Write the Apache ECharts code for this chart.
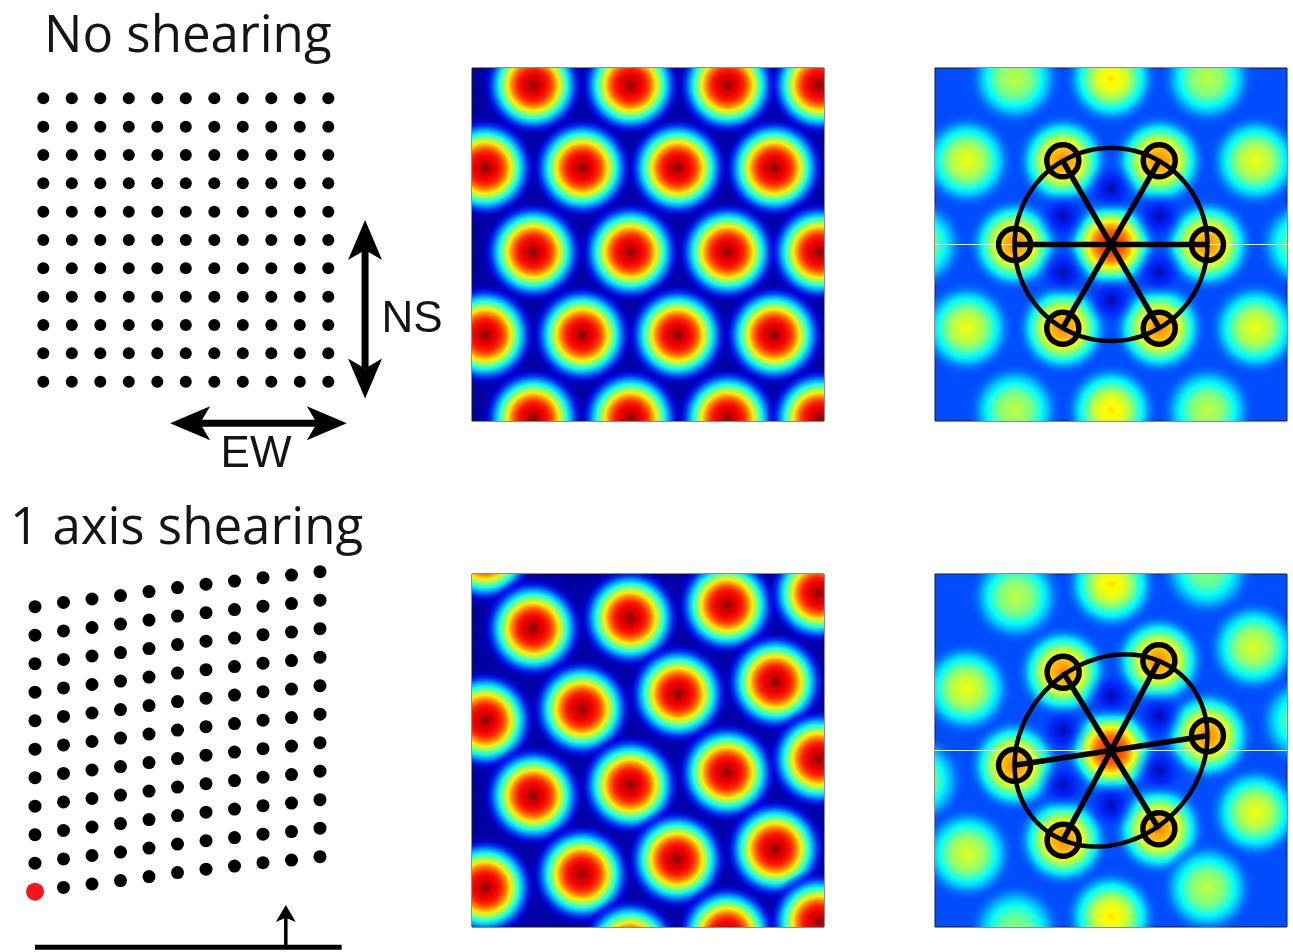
<!DOCTYPE html>
<html>
<head>
<meta charset="utf-8">
<script src="https://cdn.jsdelivr.net/npm/echarts/dist/echarts.min.js"></script>
<style>
  html, body { margin: 0; padding: 0; background: #fff; }
  #main { width: 1293px; height: 952px; }
</style>
</head>
<body>
<div id="main"></div>
<script>
// ---- data ----
// dot lattices (column / row index)
const dotCols = [0, 1, 2, 3, 4, 5, 6, 7, 8, 9, 10];
const dotRows = [0, 1, 2, 3, 4, 5, 6, 7, 8, 9, 10];
// vertical shift of every column in the sheared lattice, in row units
const shearOffset = [0, 0.15, 0.27, 0.39, 0.53, 0.67, 0.79, 0.90, 1.02, 1.11, 1.23];
const startDot = [0, 0];

// rate map firing fields: [x, y, peak height]  (panel spans 0..100)
const rateTopPeaks = [
  [17.4, 95.2, 1], [45.0, 95.2, 1], [72.6, 95.2, 1], [98.6, 95.2, 1],
  [3.7, 71.7, 1], [31.3, 71.7, 1], [58.4, 71.7, 1], [85.8, 71.7, 1],
  [17.4, 47.9, 1], [45.0, 47.9, 1], [72.6, 47.9, 1], [98.6, 47.9, 1],
  [3.7, 24.4, 1], [31.3, 24.4, 1], [58.4, 24.4, 1], [85.8, 24.4, 1],
  [17.4, 0.8, 1], [45.0, 0.8, 1], [72.6, 0.8, 1], [98.6, 0.8, 1]
];
const rateBottomPeaks = [
  [3.7, 105.8, 1],
  [17.4, 84.6, 1], [44.9, 87.6, 1], [72.4, 91.2, 1], [98.4, 94.5, 1],
  [3.7, 58.5, 1], [31.2, 61.8, 1], [58.6, 66.1, 1], [86.1, 69.4, 1],
  [17.4, 37.2, 1], [44.9, 40.2, 1], [72.4, 43.8, 1], [98.4, 47.6, 1],
  [3.7, 11.2, 1], [31.2, 15.0, 1], [58.2, 19.2, 1], [86.1, 22.1, 1],
  [44.9, -6.0, 1], [72.4, -2.0, 1], [98.4, 1.5, 1]
];

// autocorrelograms: centre, six inner peaks (R, TR, TL, L, BL, BR), outer peaks, troughs
const acTopCentre = [50, 50, 0.88];
const acTopRing = [
  [77.4, 50, 0.76], [63.7, 73.7, 0.76], [36.3, 73.7, 0.76],
  [22.6, 50, 0.76], [36.3, 26.3, 0.76], [63.7, 26.3, 0.76]
];
const acTopOuter = [
  [50, 97, 0.66], [50, 3, 0.66],
  [9, 73.7, 0.62], [91, 73.7, 0.62], [9, 26.3, 0.62], [91, 26.3, 0.62],
  [22.6, 97, 0.57], [77.4, 97, 0.57], [22.6, 3, 0.57], [77.4, 3, 0.57],
  [-4.8, 50, 0.55], [104.8, 50, 0.55]
];
const acTopTroughs = [
  [50, 65.8, 0.03], [50, 34.2, 0.03], [63.7, 57.9, 0.03],
  [36.3, 57.9, 0.03], [63.7, 42.1, 0.03], [36.3, 42.1, 0.03]
];

const acBottomCentre = [50, 50, 0.88];
const acBottomRing = [
  [77.4, 54.2, 0.76], [63.6, 75.4, 0.76], [36.4, 72.2, 0.76],
  [22.6, 45.8, 0.76], [36.4, 24.6, 0.76], [63.6, 27.8, 0.76]
];
const acBottomOuter = [
  [50, 97, 0.66], [50, 3, 0.66],
  [23, 93.6, 0.57], [8.8, 67.5, 0.62], [90.5, 79.3, 0.6],
  [91, 32.5, 0.62], [9.2, 20.8, 0.6], [77.3, 11, 0.57],
  [22.8, -0.8, 0.52], [77.2, 101, 0.52], [-4.8, 41.6, 0.53], [104.8, 58.4, 0.53]
];
const acBottomTroughs = [
  [63.7, 59.9, 0.03], [50, 65.5, 0.03], [36.3, 55.7, 0.03],
  [36.3, 40.1, 0.03], [50, 34.5, 0.03], [63.7, 44.3, 0.03]
];

// ---- helpers ----
function jet(v, a) {
  const cl = x => Math.max(0, Math.min(1, x));
  const r = cl(1.5 - Math.abs(4 * v - 3));
  const g = cl(1.5 - Math.abs(4 * v - 2));
  const b = cl(1.5 - Math.abs(4 * v - 1));
  return 'rgba(' + Math.round(r * 255) + ',' + Math.round(g * 255) + ',' + Math.round(b * 255) + ',' + (a == null ? 1 : a.toFixed(3)) + ')';
}

// radial fall-off of a firing field (radius fraction -> relative height)
const PROFILE = [[0, 1], [0.1, 0.93], [0.2, 0.89], [0.3, 0.84], [0.4, 0.74], [0.48, 0.63],
  [0.56, 0.5], [0.64, 0.38], [0.72, 0.26], [0.8, 0.16], [0.9, 0.08], [1, 0.02]];

const RATE_BG = 0.035;
const AC_BG = 0.2;

function peakItem(bg, radius) {
  return function (params, api) {
    const c = api.coord([api.value(0), api.value(1)]);
    const r = api.size([radius, 0])[0];
    const h = api.value(2);
    const stops = PROFILE.map(([t, f]) => ({
      offset: t,
      color: jet(bg + (h - bg) * f, t < 0.75 ? 1 : (1 - t) / 0.25)
    }));
    return {
      type: 'circle',
      shape: { cx: c[0], cy: c[1], r: r },
      style: { fill: { type: 'radial', x: 0.5, y: 0.5, r: 0.5, global: false, colorStops: stops } }
    };
  };
}

function troughItem(bg, radius) {
  return function (params, api) {
    const c = api.coord([api.value(0), api.value(1)]);
    const r = api.size([radius, 0])[0];
    const d = api.value(2);
    return {
      type: 'circle',
      shape: { cx: c[0], cy: c[1], r: r },
      style: {
        fill: {
          type: 'radial', x: 0.5, y: 0.5, r: 0.5, global: false,
          colorStops: [
            { offset: 0, color: jet(d, 0.85) },
            { offset: 0.45, color: jet((d + bg) / 2, 0.5) },
            { offset: 1, color: jet(bg, 0) }
          ]
        }
      }
    };
  };
}

function overlayItem(centre, ring) {
  return function (params, api) {
    const c = api.coord([centre[0], centre[1]]);
    const p = api.coord([api.value(0), api.value(1)]);
    const kids = [
      { type: 'line', shape: { x1: c[0], y1: c[1], x2: p[0], y2: p[1] }, style: { stroke: '#000', lineWidth: 5.5 } },
      { type: 'circle', shape: { cx: p[0], cy: p[1], r: 16 }, style: { fill: null, stroke: '#000', lineWidth: 5.5 } }
    ];
    if (params.dataIndex === 0) {
      // ellipse through the six inner peaks (conjugate diameters)
      const u = [ring[0][0] - centre[0], ring[0][1] - centre[1]];
      const v = [ring[1][0] - centre[0], ring[1][1] - centre[1]];
      const w = [(2 * v[0] - u[0]) / Math.sqrt(3), (2 * v[1] - u[1]) / Math.sqrt(3)];
      const pts = [];
      for (let k = 0; k <= 90; k++) {
        const t = k / 90 * 2 * Math.PI;
        pts.push(api.coord([
          centre[0] + Math.cos(t) * u[0] + Math.sin(t) * w[0],
          centre[1] + Math.cos(t) * u[1] + Math.sin(t) * w[1]
        ]));
      }
      kids.unshift({ type: 'polyline', shape: { points: pts }, style: { stroke: '#000', lineWidth: 4.5, fill: null } });
    }
    return { type: 'group', children: kids };
  };
}

function arrowItem(head, shaft, ends) {
  return function (params, api) {
    const a = api.coord([api.value(0), api.value(1)]);
    const b = api.coord([api.value(2), api.value(3)]);
    const len = Math.hypot(b[0] - a[0], b[1] - a[1]);
    const d = [(b[0] - a[0]) / len, (b[1] - a[1]) / len];
    const n = [-d[1], d[0]];
    const kids = [];
    const mk = (tip, dir) => {
      const base = [tip[0] - dir[0] * head[0], tip[1] - dir[1] * head[0]];
      const notch = [tip[0] - dir[0] * head[0] * 0.75, tip[1] - dir[1] * head[0] * 0.75];
      kids.push({
        type: 'polygon',
        shape: { points: [tip, [base[0] + n[0] * head[1] / 2, base[1] + n[1] * head[1] / 2], notch,
          [base[0] - n[0] * head[1] / 2, base[1] - n[1] * head[1] / 2]] },
        style: { fill: '#000' }
      });
      return notch;
    };
    let s = a, e = b;
    if (ends[0]) s = mk(a, [-d[0], -d[1]]);
    if (ends[1]) e = mk(b, d);
    kids.unshift({ type: 'line', shape: { x1: s[0], y1: s[1], x2: e[0], y2: e[1] }, style: { stroke: '#000', lineWidth: shaft } });
    return { type: 'group', children: kids };
  };
}

// ---- build series data ----
const flatDots = [];
dotCols.forEach(c => dotRows.forEach(r => flatDots.push([c, r])));
const shearDots = [];
dotCols.forEach((c, i) => dotRows.forEach(r => {
  if (!(c === startDot[0] && r === startDot[1])) shearDots.push([c, r + shearOffset[i]]);
}));

const acTopPeaks = [acTopCentre].concat(acTopRing, acTopOuter);
const acBottomPeaks = [acBottomCentre].concat(acBottomRing, acBottomOuter);

const chart = echarts.init(document.getElementById('main'));

const panelGrid = (left, top, bg) => ({
  left: left, top: top, width: 352, height: 353,
  show: true, backgroundColor: jet(bg), borderColor: '#1a1a1a', borderWidth: 1
});

const hiddenAxis = (gi, min, max) => ({ gridIndex: gi, type: 'value', min: min, max: max, show: false });

const RATE_R = 15;
const AC_R = 13.5;

function acSeries(gi, peaks, troughs, centre, ring) {
  return [
    { type: 'custom', xAxisIndex: gi, yAxisIndex: gi, clip: true, z: 1, data: peaks,
      encode: { x: 0, y: 1 }, renderItem: peakItem(AC_BG, AC_R), silent: true },
    { type: 'custom', xAxisIndex: gi, yAxisIndex: gi, clip: true, z: 2, data: troughs,
      encode: { x: 0, y: 1 }, renderItem: troughItem(AC_BG, 7.5), silent: true },
    { type: 'line', xAxisIndex: gi, yAxisIndex: gi, z: 3, data: [[0, centre[1]], [100, centre[1]]],
      symbol: 'none', lineStyle: { color: '#f3eef3', width: 1.2 }, silent: true },
    { type: 'custom', xAxisIndex: gi, yAxisIndex: gi, z: 4, data: ring,
      encode: { x: 0, y: 1 }, renderItem: overlayItem(centre, ring), silent: true }
  ];
}

const option = {
  animation: false,
  backgroundColor: '#fff',
  grid: [
    { left: 43.3, top: 98.3, width: 285, height: 283.4 },
    { left: 35, top: 549.7, width: 285, height: 342 },
    panelGrid(472, 68, RATE_BG),
    panelGrid(935, 68, AC_BG),
    panelGrid(472, 574, RATE_BG),
    panelGrid(935, 574, AC_BG)
  ],
  xAxis: [
    hiddenAxis(0, 0, 10), hiddenAxis(1, 0, 10),
    hiddenAxis(2, 0, 100), hiddenAxis(3, 0, 100), hiddenAxis(4, 0, 100), hiddenAxis(5, 0, 100)
  ],
  yAxis: [
    hiddenAxis(0, 0, 10), hiddenAxis(1, 0, 12),
    hiddenAxis(2, 0, 100), hiddenAxis(3, 0, 100), hiddenAxis(4, 0, 100), hiddenAxis(5, 0, 100)
  ],
  graphic: [
    { type: 'text', x: 44, y: 37, style: { text: 'No shearing', font: '51px "Open Sans"', fill: '#151515',
      textAlign: 'left', align: 'left', textVerticalAlign: 'middle', verticalAlign: 'middle' } },
    { type: 'text', x: 10, y: 529, style: { text: '1 axis shearing', font: '51px "Open Sans"', fill: '#151515',
      textAlign: 'left', align: 'left', textVerticalAlign: 'middle', verticalAlign: 'middle' } },
    { type: 'text', x: 412, y: 319.5, style: { text: 'NS', font: '44px "Liberation Sans"', fill: '#151515',
      textAlign: 'center', align: 'center', textVerticalAlign: 'middle', verticalAlign: 'middle' } },
    { type: 'text', x: 256, y: 454.5, style: { text: 'EW', font: '44px "Liberation Sans"', fill: '#151515',
      textAlign: 'center', align: 'center', textVerticalAlign: 'middle', verticalAlign: 'middle' } }
  ],
  series: [
    { type: 'scatter', xAxisIndex: 0, yAxisIndex: 0, data: flatDots, symbolSize: 12, clip: false,
      itemStyle: { color: '#000', opacity: 1 }, silent: true },
    { type: 'custom', xAxisIndex: 0, yAxisIndex: 0, data: [[11.29, 5.71, 11.29, -0.59], [4.45, -1.47, 10.65, -1.47]],
      encode: { x: [0, 2], y: [1, 3] }, renderItem: arrowItem([40, 34], 7, [true, true]), silent: true },
    { type: 'scatter', xAxisIndex: 1, yAxisIndex: 1, data: shearDots, symbolSize: 13, clip: false,
      itemStyle: { color: '#000', opacity: 1 }, silent: true },
    { type: 'scatter', xAxisIndex: 1, yAxisIndex: 1, data: [startDot], symbolSize: 18, clip: false,
      itemStyle: { color: '#f5161c', opacity: 1 }, silent: true },
    { type: 'custom', xAxisIndex: 1, yAxisIndex: 1, data: [[0, -1.95, 10.76, -1.95]],
      encode: { x: [0, 2], y: [1, 3] }, renderItem: arrowItem([0, 0], 5, [false, false]), silent: true },
    { type: 'custom', xAxisIndex: 1, yAxisIndex: 1, data: [[8.8, -1.95, 8.8, -0.47]],
      encode: { x: [0, 2], y: [1, 3] }, renderItem: arrowItem([17, 20], 3.5, [false, true]), silent: true },
    { type: 'custom', xAxisIndex: 2, yAxisIndex: 2, clip: true, data: rateTopPeaks,
      encode: { x: 0, y: 1 }, renderItem: peakItem(RATE_BG, RATE_R), silent: true },
    { type: 'custom', xAxisIndex: 4, yAxisIndex: 4, clip: true, data: rateBottomPeaks,
      encode: { x: 0, y: 1 }, renderItem: peakItem(RATE_BG, RATE_R), silent: true }
  ].concat(
    acSeries(3, acTopPeaks, acTopTroughs, acTopCentre, acTopRing),
    acSeries(5, acBottomPeaks, acBottomTroughs, acBottomCentre, acBottomRing)
  )
};

chart.setOption(option);
</script>
</body>
</html>
